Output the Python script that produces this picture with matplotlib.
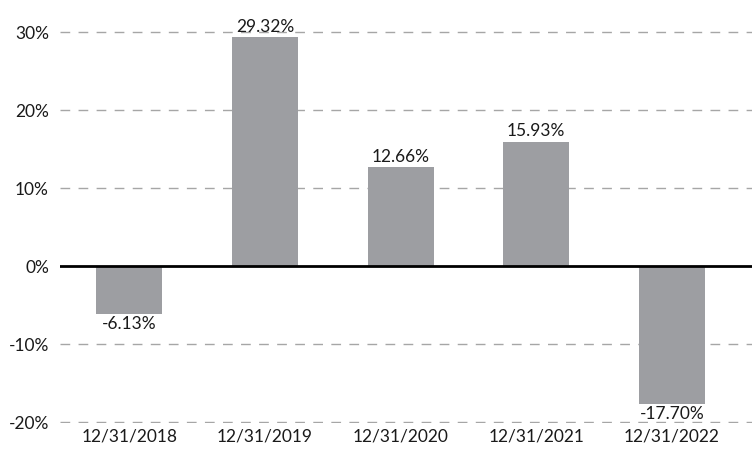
import matplotlib.pyplot as plt
from matplotlib.ticker import FuncFormatter

# Data
dates = ["12/31/2018", "12/31/2019", "12/31/2020", "12/31/2021", "12/31/2022"]
returns = [-6.13, 29.32, 12.66, 15.93, -17.70]
yticks = [-20, -10, 0, 10, 20, 30]

plt.rcParams["font.family"] = ["Lato", "DejaVu Sans"]

fig = plt.figure(figsize=(7.52, 4.51), dpi=100)
ax = fig.add_axes([60 / 752, 28.2 / 451, 692 / 752, 418 / 451])

x = range(len(dates))
bars = ax.bar(x, returns, width=0.486, color="#9d9ea2", zorder=2)

# Value labels
for bar, val in zip(bars, returns):
    cx = bar.get_x() + bar.get_width() / 2
    if val >= 0:
        ax.text(cx, val + 0.3, f"{val:.2f}%", ha="center", va="bottom", fontsize=12.5, color="#1a1a1a")
    else:
        ax.text(cx, val - 0.3, f"{val:.2f}%", ha="center", va="top", fontsize=12.5, color="#1a1a1a")

# Gridlines
for t in yticks:
    if t == 0:
        ax.axhline(0, color="black", linewidth=2, zorder=3)
    else:
        ax.axhline(t, color="#a6a6a6", linewidth=1, linestyle=(0, (7, 6)), zorder=1)

ax.set_xlim(-0.51, 4.59)
ax.set_ylim(-20.1, 33.5)
ax.set_yticks(yticks)
ax.yaxis.set_major_formatter(FuncFormatter(lambda v, p: f"{v:.0f}%"))
ax.set_xticks(list(x))
ax.set_xticklabels(dates)
ax.tick_params(axis="both", length=0, labelsize=12.5, colors="#1a1a1a")
ax.tick_params(axis="y", pad=8)
ax.tick_params(axis="x", pad=4)
for s in ax.spines.values():
    s.set_visible(False)

plt.savefig("out.png", dpi=100)
plt.close()
